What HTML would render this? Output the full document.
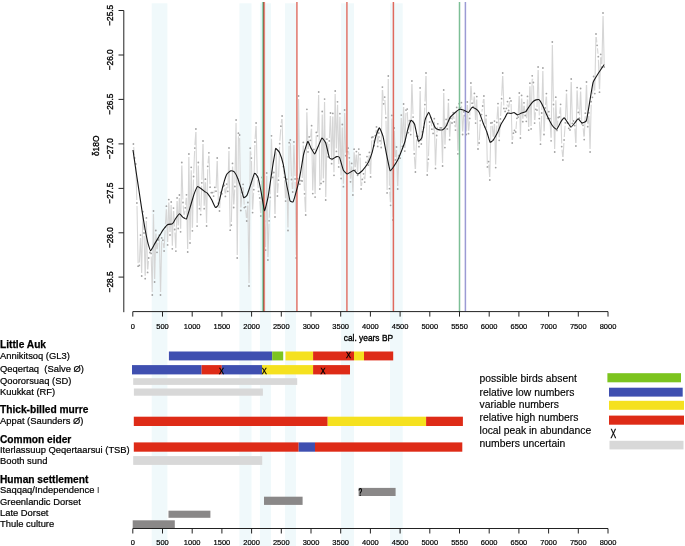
<!DOCTYPE html>
<html><head><meta charset="utf-8"><style>html,body{margin:0;padding:0;background:#fff;overflow:hidden}svg{display:block;will-change:transform}text{font-family:"Liberation Sans",sans-serif}</style></head><body>
<svg width="685" height="546" viewBox="0 0 685 546">
<rect width="685" height="546" fill="#fff"/>
<rect x="151.7" y="3.3" width="15.7" height="543" fill="#f0f9fb"/>
<rect x="239.4" y="3.3" width="12.1" height="543" fill="#f0f9fb"/>
<rect x="259.9" y="3.3" width="11.1" height="543" fill="#f0f9fb"/>
<rect x="285.0" y="3.3" width="11.0" height="543" fill="#f0f9fb"/>
<rect x="341.1" y="3.3" width="12.9" height="543" fill="#f0f9fb"/>
<rect x="390.0" y="3.3" width="12.7" height="543" fill="#f0f9fb"/>
<path d="M133.7,147.0L134.3,155.0M135.9,167.0L136.8,200.0M137.0,206.0L138.1,263.2M139.4,262.4L140.4,238.1M140.6,238.1L141.6,273.0M141.7,273.0L142.8,214.7M143.0,214.7L143.9,230.0M144.1,236.0L145.1,275.7M145.3,275.7L146.3,220.9M146.4,220.9L147.5,269.4M147.8,269.4L148.5,261.0M151.2,256.4L152.2,292.0M152.3,292.0L153.4,214.0M153.5,214.0L154.6,279.0M154.7,279.0L155.8,233.5M156.0,233.5L156.8,249.3M157.3,249.3L157.9,242.9M159.4,238.2L160.5,292.0M160.6,292.0L161.7,240.9M163.2,243.1L163.8,248.0M164.2,248.0L165.1,230.3M165.4,224.3L166.3,209.2M166.5,209.2L167.5,241.9M167.7,241.9L168.7,202.6M168.9,202.6L169.9,232.0M170.1,232.0L171.1,205.0M171.2,205.0L172.3,245.8M172.4,245.8L173.4,211.1M173.7,211.1L174.5,226.5M174.9,232.5L175.7,248.1M175.9,248.1L177.0,200.9M177.2,200.9L178.1,225.5M178.3,225.5L179.3,198.0M179.5,198.0L180.5,228.8M180.7,228.8L181.7,165.5M181.9,165.5L182.9,199.5M183.2,205.5L183.9,214.7M184.5,214.7L185.0,210.8M185.6,204.8L186.2,197.8M186.6,197.8L187.6,249.0M187.7,249.0L188.8,157.0M188.9,157.0L190.0,240.0M190.1,240.0L191.2,170.3M191.3,170.3L192.3,227.8M192.5,227.8L193.5,179.5M193.7,173.5L194.6,151.1M194.9,145.1L195.8,132.0M196.0,132.0L197.1,223.1M197.2,223.1L198.2,165.5M198.4,165.5L199.4,205.7M200.8,211.6L201.7,185.8M201.9,179.8L202.9,144.0M203.1,144.0L204.1,205.7M204.3,205.7L205.3,182.2M205.5,182.2L206.5,223.0M206.6,223.0L207.7,169.3M208.0,163.4L208.7,155.7M209.0,155.7L210.0,184.2M214.0,193.2L214.4,190.3M216.1,188.2L217.1,161.0M217.3,161.0L218.3,200.2M218.8,206.1L219.1,208.0M219.7,208.0L220.5,195.5M222.4,190.9L222.6,189.3M224.6,188.4L225.1,193.5M225.7,193.5L226.3,187.1M227.1,187.1L227.3,188.3M227.9,188.3L228.9,151.0M229.0,151.0L230.1,227.2M231.4,222.1L232.5,166.4M232.6,166.4L233.6,204.5M233.9,204.5L234.7,189.5M234.9,183.5L236.0,123.0M236.1,123.0L237.2,255.0M237.3,255.0L238.4,136.2M239.6,138.0L240.7,207.5M241.0,207.5L241.8,195.4M242.4,189.4L242.7,187.2M243.3,187.3L244.2,204.6M245.7,209.8L246.4,218.0M246.9,218.0L247.7,205.5M247.9,205.5L249.0,283.0M249.1,283.0L250.2,151.2M250.6,151.2L251.0,155.1M251.5,161.1L252.5,209.6M252.7,209.6L253.6,192.7M253.8,186.7L254.9,145.0M255.1,139.0L255.9,126.0M256.2,126.0L257.2,173.9M257.5,179.8L258.2,188.3M259.0,194.3L259.1,195.1M259.9,201.0L260.6,213.0M260.9,213.0L261.9,180.5M263.3,182.0L264.3,218.0M264.5,224.0L265.4,247.1M265.6,247.1L266.7,176.0M266.8,176.0L267.9,257.0M268.0,257.0L269.0,223.8M269.3,217.8L270.1,200.3M270.3,194.3L271.4,138.8M271.5,138.8L272.6,174.4M273.9,175.4L274.9,214.0M275.1,214.0L276.1,152.2M276.3,152.2L277.3,193.0M277.6,193.0L278.3,183.2M278.6,177.2L279.6,146.7M279.9,140.7L280.7,129.2M281.2,123.2L281.7,119.0M282.1,119.0L283.2,163.6M283.6,169.5L284.1,174.3M284.6,180.3L285.5,198.1M285.8,198.1L286.6,182.2M286.9,182.2L287.9,227.5M288.0,227.5L289.1,145.7M290.4,142.9L291.4,176.5M291.8,182.5L292.4,189.0M292.8,189.0L293.8,144.9M294.0,144.9L295.0,175.9M295.1,181.9L296.2,255.0M296.3,255.0L297.4,181.7M297.5,175.7L298.6,99.0M298.6,99.0L299.7,181.2M302.2,178.0L303.2,145.4M303.4,145.4L304.4,190.8M304.7,196.8L305.5,212.0M305.7,212.0L306.8,112.3M306.9,112.3L308.0,148.9M308.3,148.9L309.0,139.9M310.6,137.3L311.3,128.7M311.6,128.7L312.7,190.6M312.8,190.6L313.9,152.3M314.0,152.3L315.0,194.1M315.2,194.1L316.2,135.4M317.6,132.8L318.6,95.0M318.7,95.0L319.8,186.0M321.1,180.4L322.2,114.5M322.3,114.5L323.3,178.6M323.4,178.6L324.5,102.1M324.6,102.1L325.7,197.0M325.8,197.0L326.9,142.1M327.1,142.1L327.9,153.8M328.3,153.8L329.1,143.9M329.4,137.9L330.3,116.0M330.5,116.0L331.6,160.7M331.7,160.7L332.7,116.4M332.9,116.4L333.9,172.3M334.0,172.3L335.1,94.0M335.2,94.0L336.3,148.4M336.4,148.4L337.5,104.8M337.6,104.8L338.7,163.9M338.8,163.9L339.8,116.7M340.0,116.7L341.0,175.5M341.1,175.5L342.2,127.5M342.3,127.5L343.4,183.7M343.5,183.7L344.6,113.0M344.7,113.0L345.7,152.7M348.5,151.1L349.0,154.8M349.5,160.8L350.4,178.8M350.7,178.8L351.5,166.4M351.8,166.4L352.8,192.0M353.0,192.0L354.0,152.2M354.2,152.2L355.1,167.2M355.4,167.2L356.2,154.6M356.6,154.6L357.5,172.3M357.7,172.3L358.6,152.1M360.1,157.6L361.0,186.0M361.5,186.0L362.0,182.4M363.9,176.7L364.3,179.1M364.9,179.1L365.7,165.3M367.5,159.6L367.8,162.1M368.5,162.1L369.1,155.4M369.5,155.4L370.4,173.9M370.7,173.9L371.7,140.5M373.3,140.0L373.7,142.7M374.5,142.7L374.9,138.6M375.7,132.7L376.1,129.9M376.7,129.9L377.5,143.4M377.9,143.4L378.6,136.0M379.3,136.0L379.6,137.8M380.5,143.7L380.7,144.5M381.3,144.5L382.3,90.1M382.6,90.1L383.3,100.8M384.1,100.8L384.2,100.1M384.9,100.1L385.7,114.7M386.0,120.7L387.1,189.9M387.1,189.9L388.2,79.0M388.3,79.0L389.4,185.7M389.7,191.7L390.4,202.3M390.7,202.3L391.8,118.4M391.9,118.4L393.0,217.0M393.0,217.0L394.1,131.0M394.3,131.0L395.2,156.9M395.6,156.9L396.3,150.0M396.6,150.0L397.6,186.0M397.8,186.0L398.8,158.7M400.2,155.2L401.2,118.1M401.4,118.1L402.3,143.3M402.5,143.3L403.5,107.0M403.7,107.0L404.7,148.1M404.9,148.1L405.9,113.1M407.3,112.1L408.2,129.8M408.6,129.8L409.2,123.7M409.8,123.7L410.4,131.6M410.8,131.6L411.8,84.0M412.0,84.0L413.0,114.1M413.2,120.1L414.1,150.8M414.4,156.8L415.2,169.0M415.5,169.0L416.5,139.2M418.1,139.4L418.6,143.7M419.0,143.7L420.1,90.9M420.2,90.9L421.3,141.0M421.6,141.0L422.2,134.7M423.8,124.4L424.7,107.6M425.0,101.6L425.9,76.0M426.1,76.0L427.2,172.0M427.4,172.0L428.2,162.1M428.5,156.2L429.5,125.0M431.1,120.6L431.6,126.2M433.4,130.4L434.1,121.7M434.4,121.7L435.4,165.4M435.6,165.4L436.6,138.5M437.0,132.5L437.5,126.7M441.5,130.8L442.5,163.0M442.6,163.0L443.7,93.0M443.8,93.0L444.9,144.6M445.0,144.7L446.0,122.4M446.5,122.4L446.9,126.0M447.4,125.9L448.3,102.8M448.5,102.8L449.6,136.7M449.8,136.7L450.7,121.3M452.3,120.0L452.8,115.6M453.6,115.6L454.0,119.0M454.8,124.9L455.1,127.1M455.7,127.1L456.6,110.4M456.8,110.4L457.8,150.8M458.0,150.8L459.0,106.7M461.6,105.7L462.5,131.5M462.8,131.5L463.6,114.8M465.2,118.7L466.0,131.5M466.3,131.5L467.2,105.0M467.5,105.0L468.4,130.7M468.8,130.7L469.5,121.4M469.8,115.4L470.8,86.0M471.1,86.0L471.9,100.2M473.5,103.7L474.2,96.4M474.5,96.4L475.5,120.1M475.7,120.1L476.6,99.6M476.8,99.6L477.9,146.0M479.3,140.0L480.2,123.7M481.9,111.6L482.3,109.0M483.0,103.1L483.5,99.0M484.0,99.0L484.9,124.1M485.3,124.1L485.9,118.6M486.3,118.6L487.3,163.9M488.8,164.6L489.6,177.0M489.8,177.0L490.9,126.0M492.3,125.7L493.1,136.8M493.5,136.8L494.3,124.1M494.6,124.1L495.6,164.6M495.7,164.6L496.8,125.4M497.0,119.4L497.8,106.5M498.1,106.6L499.1,137.3M499.4,137.3L500.2,121.9M500.6,115.9L501.4,101.7M501.7,95.7L502.6,76.0M502.8,76.0L503.8,105.4M506.8,105.4L506.9,104.6M507.9,104.6L508.2,107.5M508.9,107.5L509.5,101.2M511.1,103.9L512.1,140.0M512.5,140.0L513.0,136.2M516.0,129.0L516.6,121.3M518.2,114.1L519.1,96.0M519.3,96.0L520.4,135.0M520.5,135.0L521.5,98.4M521.8,98.4L522.7,118.7M523.0,118.7L523.8,105.8M524.3,105.8L524.9,112.5M526.5,118.3L527.4,99.4M527.6,99.4L528.6,127.1M528.8,127.1L529.8,86.2M530.0,86.2L531.0,125.9M531.1,125.9L532.2,78.8M532.8,78.7L532.9,79.6M533.5,85.5L534.5,120.1M534.9,120.1L535.5,112.3M537.0,107.1L538.1,70.0M538.2,70.0L539.3,115.6M539.5,121.6L540.4,141.2M540.6,141.2L541.6,116.0M541.8,110.0L542.8,71.0M542.9,71.0L544.0,131.5M544.2,131.5L545.1,110.9M545.5,104.9L546.2,96.6M546.5,96.6L547.4,115.4M548.1,115.5L548.2,114.7M549.3,114.7L549.4,115.7M550.1,121.6L551.0,137.8M551.2,137.8L552.3,45.0M552.4,45.0L553.4,101.5M553.6,107.5L554.6,149.0M554.7,149.0L555.8,100.2M555.9,100.2L556.9,127.4M557.3,127.4L557.9,120.5M559.7,113.8L560.3,107.3M560.6,107.3L561.7,143.6M562.0,149.6L562.7,157.0M563.1,157.0L563.9,143.0M564.3,137.0L565.1,125.8M565.4,119.8L566.4,93.6M566.6,93.6L567.5,120.0M570.1,126.9L571.1,82.0M571.3,82.0L572.3,120.4M574.9,128.6L575.7,143.0M576.0,143.0L577.0,90.6M577.2,90.6L578.1,109.4M579.6,115.2L580.5,91.5M580.7,91.5L581.7,120.7M583.2,128.3L583.9,136.6M584.3,136.6L585.2,116.2M585.5,110.2L586.4,85.0M586.6,85.0L587.6,123.7M588.0,123.7L588.6,115.8M589.0,115.8L590.0,149.0M590.1,149.0L591.2,104.7M592.6,94.3L593.4,79.5M593.8,79.5L594.6,90.6M594.8,90.6L595.9,37.0M596.3,37.0L596.8,42.4M597.5,48.3L598.0,53.7M598.4,59.7L599.4,89.2M599.6,89.2L600.6,57.3M601.0,57.3L601.6,64.2M601.9,64.2L603.0,16.0M603.1,16.0L604.2,64.0" fill="none" stroke="#d6d6d6" stroke-width="1.1"/>
<g fill="#a2a2a2"><circle cx="133.4" cy="144.0" r="0.9"/><circle cx="134.6" cy="158.0" r="0.9"/><circle cx="135.8" cy="164.0" r="0.9"/><circle cx="136.9" cy="203.0" r="0.9"/><circle cx="138.1" cy="266.2" r="0.9"/><circle cx="139.3" cy="265.4" r="0.9"/><circle cx="140.5" cy="235.1" r="0.9"/><circle cx="141.7" cy="276.0" r="0.9"/><circle cx="142.8" cy="211.7" r="0.9"/><circle cx="144.0" cy="233.0" r="0.9"/><circle cx="145.2" cy="278.7" r="0.9"/><circle cx="146.4" cy="217.9" r="0.9"/><circle cx="147.6" cy="272.4" r="0.9"/><circle cx="148.7" cy="258.0" r="0.9"/><circle cx="149.9" cy="252.5" r="0.9"/><circle cx="151.1" cy="253.4" r="0.9"/><circle cx="152.3" cy="295.0" r="0.9"/><circle cx="153.5" cy="211.0" r="0.9"/><circle cx="154.6" cy="282.0" r="0.9"/><circle cx="155.8" cy="230.5" r="0.9"/><circle cx="157.0" cy="252.3" r="0.9"/><circle cx="158.2" cy="239.9" r="0.9"/><circle cx="159.4" cy="235.2" r="0.9"/><circle cx="160.5" cy="295.0" r="0.9"/><circle cx="161.7" cy="237.9" r="0.9"/><circle cx="162.9" cy="240.2" r="0.9"/><circle cx="164.1" cy="251.0" r="0.9"/><circle cx="165.3" cy="227.3" r="0.9"/><circle cx="166.4" cy="206.2" r="0.9"/><circle cx="167.6" cy="244.9" r="0.9"/><circle cx="168.8" cy="199.6" r="0.9"/><circle cx="170.0" cy="235.0" r="0.9"/><circle cx="171.2" cy="202.0" r="0.9"/><circle cx="172.3" cy="248.8" r="0.9"/><circle cx="173.5" cy="208.1" r="0.9"/><circle cx="174.7" cy="229.5" r="0.9"/><circle cx="175.9" cy="251.1" r="0.9"/><circle cx="177.1" cy="197.9" r="0.9"/><circle cx="178.2" cy="228.5" r="0.9"/><circle cx="179.4" cy="195.0" r="0.9"/><circle cx="180.6" cy="231.8" r="0.9"/><circle cx="181.8" cy="162.5" r="0.9"/><circle cx="183.0" cy="202.5" r="0.9"/><circle cx="184.1" cy="217.7" r="0.9"/><circle cx="185.3" cy="207.8" r="0.9"/><circle cx="186.5" cy="194.8" r="0.9"/><circle cx="187.7" cy="252.0" r="0.9"/><circle cx="188.9" cy="154.0" r="0.9"/><circle cx="190.0" cy="243.0" r="0.9"/><circle cx="191.2" cy="167.3" r="0.9"/><circle cx="192.4" cy="230.8" r="0.9"/><circle cx="193.6" cy="176.5" r="0.9"/><circle cx="194.8" cy="148.1" r="0.9"/><circle cx="195.9" cy="129.0" r="0.9"/><circle cx="197.1" cy="226.1" r="0.9"/><circle cx="198.3" cy="162.5" r="0.9"/><circle cx="199.5" cy="208.7" r="0.9"/><circle cx="200.7" cy="214.6" r="0.9"/><circle cx="201.8" cy="182.8" r="0.9"/><circle cx="203.0" cy="141.0" r="0.9"/><circle cx="204.2" cy="208.7" r="0.9"/><circle cx="205.4" cy="179.2" r="0.9"/><circle cx="206.6" cy="226.0" r="0.9"/><circle cx="207.7" cy="166.3" r="0.9"/><circle cx="208.9" cy="152.8" r="0.9"/><circle cx="210.1" cy="187.2" r="0.9"/><circle cx="211.3" cy="192.7" r="0.9"/><circle cx="212.5" cy="192.6" r="0.9"/><circle cx="213.6" cy="196.1" r="0.9"/><circle cx="214.8" cy="187.3" r="0.9"/><circle cx="216.0" cy="191.2" r="0.9"/><circle cx="217.2" cy="158.0" r="0.9"/><circle cx="218.4" cy="203.2" r="0.9"/><circle cx="219.5" cy="211.0" r="0.9"/><circle cx="220.7" cy="192.5" r="0.9"/><circle cx="221.9" cy="193.8" r="0.9"/><circle cx="223.1" cy="186.3" r="0.9"/><circle cx="224.3" cy="185.4" r="0.9"/><circle cx="225.4" cy="196.4" r="0.9"/><circle cx="226.6" cy="184.1" r="0.9"/><circle cx="227.8" cy="191.3" r="0.9"/><circle cx="229.0" cy="148.0" r="0.9"/><circle cx="230.2" cy="230.2" r="0.9"/><circle cx="231.3" cy="225.1" r="0.9"/><circle cx="232.5" cy="163.4" r="0.9"/><circle cx="233.7" cy="207.5" r="0.9"/><circle cx="234.9" cy="186.5" r="0.9"/><circle cx="236.1" cy="120.0" r="0.9"/><circle cx="237.2" cy="258.0" r="0.9"/><circle cx="238.4" cy="133.2" r="0.9"/><circle cx="239.6" cy="135.0" r="0.9"/><circle cx="240.8" cy="210.5" r="0.9"/><circle cx="242.0" cy="192.4" r="0.9"/><circle cx="243.1" cy="184.3" r="0.9"/><circle cx="244.3" cy="207.6" r="0.9"/><circle cx="245.5" cy="206.8" r="0.9"/><circle cx="246.7" cy="221.0" r="0.9"/><circle cx="247.9" cy="202.5" r="0.9"/><circle cx="249.0" cy="286.0" r="0.9"/><circle cx="250.2" cy="148.2" r="0.9"/><circle cx="251.4" cy="158.1" r="0.9"/><circle cx="252.6" cy="212.6" r="0.9"/><circle cx="253.8" cy="189.7" r="0.9"/><circle cx="254.9" cy="142.0" r="0.9"/><circle cx="256.1" cy="123.0" r="0.9"/><circle cx="257.3" cy="176.9" r="0.9"/><circle cx="258.5" cy="191.3" r="0.9"/><circle cx="259.7" cy="198.0" r="0.9"/><circle cx="260.8" cy="216.0" r="0.9"/><circle cx="262.0" cy="177.5" r="0.9"/><circle cx="263.2" cy="179.0" r="0.9"/><circle cx="264.4" cy="221.0" r="0.9"/><circle cx="265.6" cy="250.1" r="0.9"/><circle cx="266.7" cy="173.0" r="0.9"/><circle cx="267.9" cy="260.0" r="0.9"/><circle cx="269.1" cy="220.8" r="0.9"/><circle cx="270.3" cy="197.3" r="0.9"/><circle cx="271.5" cy="135.8" r="0.9"/><circle cx="272.6" cy="177.4" r="0.9"/><circle cx="273.8" cy="172.5" r="0.9"/><circle cx="275.0" cy="217.0" r="0.9"/><circle cx="276.2" cy="149.2" r="0.9"/><circle cx="277.4" cy="196.0" r="0.9"/><circle cx="278.5" cy="180.2" r="0.9"/><circle cx="279.7" cy="143.7" r="0.9"/><circle cx="280.9" cy="126.2" r="0.9"/><circle cx="282.1" cy="116.0" r="0.9"/><circle cx="283.3" cy="166.6" r="0.9"/><circle cx="284.4" cy="177.3" r="0.9"/><circle cx="285.6" cy="201.1" r="0.9"/><circle cx="286.8" cy="179.2" r="0.9"/><circle cx="288.0" cy="230.5" r="0.9"/><circle cx="289.2" cy="142.7" r="0.9"/><circle cx="290.3" cy="139.9" r="0.9"/><circle cx="291.5" cy="179.5" r="0.9"/><circle cx="292.7" cy="192.0" r="0.9"/><circle cx="293.9" cy="141.9" r="0.9"/><circle cx="295.1" cy="178.9" r="0.9"/><circle cx="296.2" cy="258.0" r="0.9"/><circle cx="297.4" cy="178.7" r="0.9"/><circle cx="298.6" cy="96.0" r="0.9"/><circle cx="299.8" cy="184.2" r="0.9"/><circle cx="301.0" cy="180.6" r="0.9"/><circle cx="302.1" cy="181.0" r="0.9"/><circle cx="303.3" cy="142.4" r="0.9"/><circle cx="304.5" cy="193.8" r="0.9"/><circle cx="305.7" cy="215.0" r="0.9"/><circle cx="306.9" cy="109.3" r="0.9"/><circle cx="308.0" cy="151.9" r="0.9"/><circle cx="309.2" cy="136.9" r="0.9"/><circle cx="310.4" cy="140.3" r="0.9"/><circle cx="311.6" cy="125.7" r="0.9"/><circle cx="312.8" cy="193.6" r="0.9"/><circle cx="313.9" cy="149.3" r="0.9"/><circle cx="315.1" cy="197.1" r="0.9"/><circle cx="316.3" cy="132.4" r="0.9"/><circle cx="317.5" cy="135.8" r="0.9"/><circle cx="318.7" cy="92.0" r="0.9"/><circle cx="319.8" cy="189.0" r="0.9"/><circle cx="321.0" cy="183.4" r="0.9"/><circle cx="322.2" cy="111.5" r="0.9"/><circle cx="323.4" cy="181.6" r="0.9"/><circle cx="324.6" cy="99.1" r="0.9"/><circle cx="325.7" cy="200.0" r="0.9"/><circle cx="326.9" cy="139.1" r="0.9"/><circle cx="328.1" cy="156.8" r="0.9"/><circle cx="329.3" cy="140.9" r="0.9"/><circle cx="330.5" cy="113.0" r="0.9"/><circle cx="331.6" cy="163.7" r="0.9"/><circle cx="332.8" cy="113.4" r="0.9"/><circle cx="334.0" cy="175.3" r="0.9"/><circle cx="335.2" cy="91.0" r="0.9"/><circle cx="336.4" cy="151.4" r="0.9"/><circle cx="337.5" cy="101.8" r="0.9"/><circle cx="338.7" cy="166.9" r="0.9"/><circle cx="339.9" cy="113.7" r="0.9"/><circle cx="341.1" cy="178.5" r="0.9"/><circle cx="342.3" cy="124.5" r="0.9"/><circle cx="343.4" cy="186.7" r="0.9"/><circle cx="344.6" cy="110.0" r="0.9"/><circle cx="345.8" cy="155.7" r="0.9"/><circle cx="347.0" cy="151.7" r="0.9"/><circle cx="348.2" cy="148.1" r="0.9"/><circle cx="349.3" cy="157.8" r="0.9"/><circle cx="350.5" cy="181.8" r="0.9"/><circle cx="351.7" cy="163.4" r="0.9"/><circle cx="352.9" cy="195.0" r="0.9"/><circle cx="354.1" cy="149.2" r="0.9"/><circle cx="355.2" cy="170.1" r="0.9"/><circle cx="356.4" cy="151.6" r="0.9"/><circle cx="357.6" cy="175.3" r="0.9"/><circle cx="358.8" cy="149.1" r="0.9"/><circle cx="360.0" cy="154.6" r="0.9"/><circle cx="361.1" cy="189.0" r="0.9"/><circle cx="362.3" cy="179.4" r="0.9"/><circle cx="363.5" cy="173.8" r="0.9"/><circle cx="364.7" cy="182.1" r="0.9"/><circle cx="365.9" cy="162.3" r="0.9"/><circle cx="367.0" cy="156.6" r="0.9"/><circle cx="368.2" cy="165.1" r="0.9"/><circle cx="369.4" cy="152.4" r="0.9"/><circle cx="370.6" cy="176.9" r="0.9"/><circle cx="371.8" cy="137.5" r="0.9"/><circle cx="372.9" cy="137.0" r="0.9"/><circle cx="374.1" cy="145.7" r="0.9"/><circle cx="375.3" cy="135.7" r="0.9"/><circle cx="376.5" cy="126.9" r="0.9"/><circle cx="377.7" cy="146.4" r="0.9"/><circle cx="378.8" cy="133.0" r="0.9"/><circle cx="380.0" cy="140.8" r="0.9"/><circle cx="381.2" cy="147.5" r="0.9"/><circle cx="382.4" cy="87.1" r="0.9"/><circle cx="383.6" cy="103.8" r="0.9"/><circle cx="384.7" cy="97.1" r="0.9"/><circle cx="385.9" cy="117.7" r="0.9"/><circle cx="387.1" cy="192.9" r="0.9"/><circle cx="388.3" cy="76.0" r="0.9"/><circle cx="389.5" cy="188.7" r="0.9"/><circle cx="390.6" cy="205.3" r="0.9"/><circle cx="391.8" cy="115.4" r="0.9"/><circle cx="393.0" cy="220.0" r="0.9"/><circle cx="394.2" cy="128.0" r="0.9"/><circle cx="395.4" cy="159.9" r="0.9"/><circle cx="396.5" cy="147.0" r="0.9"/><circle cx="397.7" cy="189.0" r="0.9"/><circle cx="398.9" cy="155.7" r="0.9"/><circle cx="400.1" cy="158.2" r="0.9"/><circle cx="401.3" cy="115.1" r="0.9"/><circle cx="402.4" cy="146.3" r="0.9"/><circle cx="403.6" cy="104.0" r="0.9"/><circle cx="404.8" cy="151.1" r="0.9"/><circle cx="406.0" cy="110.1" r="0.9"/><circle cx="407.2" cy="109.1" r="0.9"/><circle cx="408.3" cy="132.7" r="0.9"/><circle cx="409.5" cy="120.7" r="0.9"/><circle cx="410.7" cy="134.6" r="0.9"/><circle cx="411.9" cy="81.0" r="0.9"/><circle cx="413.1" cy="117.1" r="0.9"/><circle cx="414.2" cy="153.8" r="0.9"/><circle cx="415.4" cy="172.0" r="0.9"/><circle cx="416.6" cy="136.2" r="0.9"/><circle cx="417.8" cy="136.5" r="0.9"/><circle cx="419.0" cy="146.7" r="0.9"/><circle cx="420.1" cy="87.9" r="0.9"/><circle cx="421.3" cy="144.0" r="0.9"/><circle cx="422.5" cy="131.8" r="0.9"/><circle cx="423.7" cy="127.4" r="0.9"/><circle cx="424.9" cy="104.6" r="0.9"/><circle cx="426.0" cy="73.0" r="0.9"/><circle cx="427.2" cy="175.0" r="0.9"/><circle cx="428.4" cy="159.2" r="0.9"/><circle cx="429.6" cy="122.0" r="0.9"/><circle cx="430.8" cy="117.6" r="0.9"/><circle cx="431.9" cy="129.2" r="0.9"/><circle cx="433.1" cy="133.4" r="0.9"/><circle cx="434.3" cy="118.7" r="0.9"/><circle cx="435.5" cy="168.4" r="0.9"/><circle cx="436.7" cy="135.5" r="0.9"/><circle cx="437.8" cy="123.8" r="0.9"/><circle cx="439.0" cy="129.8" r="0.9"/><circle cx="440.2" cy="127.8" r="0.9"/><circle cx="441.4" cy="127.8" r="0.9"/><circle cx="442.6" cy="166.0" r="0.9"/><circle cx="443.7" cy="90.0" r="0.9"/><circle cx="444.9" cy="147.6" r="0.9"/><circle cx="446.1" cy="119.4" r="0.9"/><circle cx="447.3" cy="128.9" r="0.9"/><circle cx="448.5" cy="99.8" r="0.9"/><circle cx="449.6" cy="139.7" r="0.9"/><circle cx="450.8" cy="118.3" r="0.9"/><circle cx="452.0" cy="123.0" r="0.9"/><circle cx="453.2" cy="112.7" r="0.9"/><circle cx="454.4" cy="122.0" r="0.9"/><circle cx="455.5" cy="130.1" r="0.9"/><circle cx="456.7" cy="107.4" r="0.9"/><circle cx="457.9" cy="153.8" r="0.9"/><circle cx="459.1" cy="103.7" r="0.9"/><circle cx="460.3" cy="107.9" r="0.9"/><circle cx="461.4" cy="102.7" r="0.9"/><circle cx="462.6" cy="134.5" r="0.9"/><circle cx="463.8" cy="111.8" r="0.9"/><circle cx="465.0" cy="115.7" r="0.9"/><circle cx="466.2" cy="134.5" r="0.9"/><circle cx="467.3" cy="102.0" r="0.9"/><circle cx="468.5" cy="133.7" r="0.9"/><circle cx="469.7" cy="118.4" r="0.9"/><circle cx="470.9" cy="83.0" r="0.9"/><circle cx="472.1" cy="103.2" r="0.9"/><circle cx="473.2" cy="106.7" r="0.9"/><circle cx="474.4" cy="93.4" r="0.9"/><circle cx="475.6" cy="123.1" r="0.9"/><circle cx="476.8" cy="96.6" r="0.9"/><circle cx="478.0" cy="149.0" r="0.9"/><circle cx="479.1" cy="143.0" r="0.9"/><circle cx="480.3" cy="120.7" r="0.9"/><circle cx="481.5" cy="114.6" r="0.9"/><circle cx="482.7" cy="106.0" r="0.9"/><circle cx="483.9" cy="96.0" r="0.9"/><circle cx="485.0" cy="127.1" r="0.9"/><circle cx="486.2" cy="115.6" r="0.9"/><circle cx="487.4" cy="166.9" r="0.9"/><circle cx="488.6" cy="161.6" r="0.9"/><circle cx="489.8" cy="180.0" r="0.9"/><circle cx="490.9" cy="123.0" r="0.9"/><circle cx="492.1" cy="122.7" r="0.9"/><circle cx="493.3" cy="139.8" r="0.9"/><circle cx="494.5" cy="121.1" r="0.9"/><circle cx="495.7" cy="167.6" r="0.9"/><circle cx="496.8" cy="122.4" r="0.9"/><circle cx="498.0" cy="103.6" r="0.9"/><circle cx="499.2" cy="140.3" r="0.9"/><circle cx="500.4" cy="118.9" r="0.9"/><circle cx="501.6" cy="98.7" r="0.9"/><circle cx="502.7" cy="73.0" r="0.9"/><circle cx="503.9" cy="108.4" r="0.9"/><circle cx="505.1" cy="111.4" r="0.9"/><circle cx="506.3" cy="108.4" r="0.9"/><circle cx="507.5" cy="101.6" r="0.9"/><circle cx="508.6" cy="110.5" r="0.9"/><circle cx="509.8" cy="98.2" r="0.9"/><circle cx="511.0" cy="100.9" r="0.9"/><circle cx="512.2" cy="143.0" r="0.9"/><circle cx="513.4" cy="133.2" r="0.9"/><circle cx="514.5" cy="130.4" r="0.9"/><circle cx="515.7" cy="132.0" r="0.9"/><circle cx="516.9" cy="118.3" r="0.9"/><circle cx="518.1" cy="117.1" r="0.9"/><circle cx="519.3" cy="93.0" r="0.9"/><circle cx="520.4" cy="138.0" r="0.9"/><circle cx="521.6" cy="95.4" r="0.9"/><circle cx="522.8" cy="121.7" r="0.9"/><circle cx="524.0" cy="102.8" r="0.9"/><circle cx="525.2" cy="115.5" r="0.9"/><circle cx="526.3" cy="121.3" r="0.9"/><circle cx="527.5" cy="96.4" r="0.9"/><circle cx="528.7" cy="130.1" r="0.9"/><circle cx="529.9" cy="83.2" r="0.9"/><circle cx="531.1" cy="128.9" r="0.9"/><circle cx="532.2" cy="75.8" r="0.9"/><circle cx="533.4" cy="82.5" r="0.9"/><circle cx="534.6" cy="123.1" r="0.9"/><circle cx="535.8" cy="109.3" r="0.9"/><circle cx="537.0" cy="110.1" r="0.9"/><circle cx="538.1" cy="67.0" r="0.9"/><circle cx="539.3" cy="118.6" r="0.9"/><circle cx="540.5" cy="144.2" r="0.9"/><circle cx="541.7" cy="113.0" r="0.9"/><circle cx="542.9" cy="68.0" r="0.9"/><circle cx="544.0" cy="134.5" r="0.9"/><circle cx="545.2" cy="107.9" r="0.9"/><circle cx="546.4" cy="93.6" r="0.9"/><circle cx="547.6" cy="118.4" r="0.9"/><circle cx="548.8" cy="111.7" r="0.9"/><circle cx="549.9" cy="118.6" r="0.9"/><circle cx="551.1" cy="140.8" r="0.9"/><circle cx="552.3" cy="42.0" r="0.9"/><circle cx="553.5" cy="104.5" r="0.9"/><circle cx="554.7" cy="152.0" r="0.9"/><circle cx="555.8" cy="97.2" r="0.9"/><circle cx="557.0" cy="130.4" r="0.9"/><circle cx="558.2" cy="117.5" r="0.9"/><circle cx="559.4" cy="116.8" r="0.9"/><circle cx="560.6" cy="104.3" r="0.9"/><circle cx="561.7" cy="146.6" r="0.9"/><circle cx="562.9" cy="160.0" r="0.9"/><circle cx="564.1" cy="140.0" r="0.9"/><circle cx="565.3" cy="122.8" r="0.9"/><circle cx="566.5" cy="90.6" r="0.9"/><circle cx="567.6" cy="123.0" r="0.9"/><circle cx="568.8" cy="128.3" r="0.9"/><circle cx="570.0" cy="129.9" r="0.9"/><circle cx="571.2" cy="79.0" r="0.9"/><circle cx="572.4" cy="123.4" r="0.9"/><circle cx="573.5" cy="121.0" r="0.9"/><circle cx="574.7" cy="125.6" r="0.9"/><circle cx="575.9" cy="146.0" r="0.9"/><circle cx="577.1" cy="87.6" r="0.9"/><circle cx="578.3" cy="112.4" r="0.9"/><circle cx="579.4" cy="118.2" r="0.9"/><circle cx="580.6" cy="88.5" r="0.9"/><circle cx="581.8" cy="123.7" r="0.9"/><circle cx="583.0" cy="125.3" r="0.9"/><circle cx="584.2" cy="139.6" r="0.9"/><circle cx="585.3" cy="113.2" r="0.9"/><circle cx="586.5" cy="82.0" r="0.9"/><circle cx="587.7" cy="126.7" r="0.9"/><circle cx="588.9" cy="112.8" r="0.9"/><circle cx="590.1" cy="152.0" r="0.9"/><circle cx="591.2" cy="101.7" r="0.9"/><circle cx="592.4" cy="97.3" r="0.9"/><circle cx="593.6" cy="76.5" r="0.9"/><circle cx="594.8" cy="93.6" r="0.9"/><circle cx="596.0" cy="34.0" r="0.9"/><circle cx="597.1" cy="45.3" r="0.9"/><circle cx="598.3" cy="56.7" r="0.9"/><circle cx="599.5" cy="92.2" r="0.9"/><circle cx="600.7" cy="54.3" r="0.9"/><circle cx="601.9" cy="67.2" r="0.9"/><circle cx="603.0" cy="13.0" r="0.9"/><circle cx="604.2" cy="67.0" r="0.9"/></g>
<rect x="261.90" y="2" width="1.10" height="309.6" fill="#8fd3b3"/>
<rect x="263.00" y="2" width="1.00" height="309.6" fill="#8f6a50"/>
<rect x="264.00" y="2" width="1.10" height="309.6" fill="#e8837a"/>
<rect x="296.10" y="2" width="1.60" height="309.6" fill="#e27e74"/>
<rect x="346.10" y="2" width="1.60" height="309.6" fill="#e27e74"/>
<rect x="392.65" y="2" width="1.50" height="309.6" fill="#df6a5e"/>
<rect x="458.75" y="2" width="1.50" height="309.6" fill="#7dbf96"/>
<rect x="464.65" y="2" width="1.50" height="309.6" fill="#9b9bd4"/>
<path d="M133.0,150.0 C133.2,151.4 135.6,168.2 136.0,171.0 C136.4,173.8 138.7,188.6 139.1,191.3 C139.5,194.0 141.7,208.9 142.1,211.4 C142.5,213.9 144.7,227.4 145.1,229.5 C145.5,231.6 147.7,242.2 148.1,243.6 C148.5,245.0 150.2,250.7 150.6,250.8 C151.0,250.9 153.8,245.4 154.3,244.5 C154.8,243.6 158.1,238.1 158.7,237.1 C159.3,236.1 162.5,230.6 163.1,229.8 C163.7,229.0 166.9,225.1 167.5,224.7 C168.1,224.3 171.5,224.1 171.9,224.0 C172.3,223.9 173.2,222.8 173.4,222.5 C173.6,222.2 175.1,219.4 175.5,218.8 C175.9,218.2 179.0,213.8 179.5,213.7 C180.0,213.6 182.4,217.1 182.9,217.4 C183.4,217.7 186.1,219.3 186.5,218.8 C186.9,218.3 189.0,210.9 189.5,209.3 C190.0,207.7 193.4,196.2 193.9,194.7 C194.4,193.2 197.0,187.0 197.5,186.6 C198.0,186.2 200.7,188.5 201.2,188.8 C201.7,189.1 204.6,191.4 205.0,191.7 C205.4,192.0 206.9,192.7 207.3,193.2 C207.7,193.7 211.2,198.9 211.7,199.8 C212.2,200.7 215.0,207.1 215.4,207.4 C215.8,207.7 217.9,206.1 218.3,204.9 C218.7,203.7 221.5,191.6 222.0,189.6 C222.5,187.6 225.8,176.2 226.4,174.9 C227.0,173.6 230.3,171.0 230.8,170.8 C231.3,170.6 233.9,171.4 234.4,172.0 C234.9,172.6 237.7,178.2 238.1,179.3 C238.5,180.4 240.6,186.9 241.0,188.1 C241.4,189.3 243.3,197.1 243.7,197.6 C244.1,198.1 246.4,196.2 246.9,195.4 C247.4,194.6 250.0,186.7 250.5,185.2 C251.0,183.7 254.0,173.9 254.5,173.4 C255.0,172.9 257.4,175.7 257.9,177.1 C258.4,178.5 261.1,191.8 261.5,194.0 C261.9,196.2 264.1,210.6 264.5,210.8 C264.9,211.0 267.6,199.5 268.1,196.9 C268.6,194.3 271.4,174.8 271.8,172.0 C272.2,169.2 274.4,156.0 274.7,154.4 C275.0,152.8 275.3,148.5 275.6,148.4 C275.9,148.3 279.0,151.4 279.5,152.5 C280.0,153.6 282.8,162.3 283.2,164.2 C283.6,166.1 285.7,179.1 286.0,181.0 C286.3,182.9 287.9,190.7 288.2,192.0 C288.5,193.3 289.7,200.1 290.0,200.8 C290.3,201.5 292.7,202.2 293.0,201.9 C293.3,201.6 294.8,196.7 295.1,195.6 C295.4,194.5 297.3,187.7 297.7,186.1 C298.1,184.5 300.2,174.3 300.6,172.2 C301.0,170.1 303.2,156.0 303.7,154.0 C304.2,152.0 307.3,141.9 307.8,141.5 C308.3,141.1 310.5,147.3 311.0,148.1 C311.5,148.9 314.2,154.1 314.7,154.0 C315.2,153.9 317.9,147.0 318.4,145.9 C318.9,144.8 321.5,138.3 322.0,138.1 C322.5,137.9 325.2,141.7 325.7,143.0 C326.2,144.3 328.9,156.5 329.3,157.6 C329.7,158.7 331.8,159.2 332.3,159.1 C332.8,159.0 336.2,156.7 336.7,156.6 C337.2,156.5 339.2,156.7 339.6,157.6 C340.0,158.5 342.8,169.0 343.3,170.1 C343.8,171.2 346.5,174.0 347.2,174.0 C347.9,174.0 353.1,170.3 353.8,170.3 C354.5,170.3 357.3,174.0 357.9,174.0 C358.5,174.0 361.9,171.1 362.6,170.3 C363.3,169.5 367.8,163.5 368.4,162.3 C369.0,161.1 371.6,154.4 372.1,152.7 C372.6,151.0 375.3,138.3 375.8,136.6 C376.3,134.9 378.9,127.8 379.4,127.8 C379.9,127.8 382.6,134.7 383.1,136.6 C383.6,138.5 386.3,153.4 386.8,155.7 C387.3,158.0 389.6,169.9 390.1,170.6 C390.6,171.3 393.6,166.6 394.1,165.9 C394.6,165.2 397.2,161.1 397.7,160.1 C398.2,159.1 400.9,152.6 401.4,151.3 C401.9,150.0 404.7,142.5 405.1,141.0 C405.5,139.5 407.6,130.0 408.0,128.6 C408.4,127.2 410.8,120.5 411.2,120.2 C411.6,119.9 414.1,122.8 414.6,124.2 C415.1,125.6 417.8,140.1 418.3,141.0 C418.8,141.9 421.4,138.9 421.9,137.5 C422.4,136.1 424.6,121.5 425.1,119.8 C425.6,118.1 428.4,112.2 428.8,112.2 C429.2,112.2 431.3,118.8 431.7,119.8 C432.1,120.8 434.9,127.2 435.4,127.9 C435.9,128.6 438.5,129.7 439.0,129.8 C439.5,129.9 442.2,130.1 442.7,129.8 C443.2,129.5 445.9,126.5 446.4,125.7 C446.9,124.9 449.4,118.5 450.0,117.6 C450.6,116.7 454.5,113.1 455.2,112.5 C455.9,111.9 459.3,109.4 459.9,109.3 C460.5,109.2 463.4,110.1 464.0,110.3 C464.6,110.5 467.9,112.7 468.4,112.5 C468.9,112.3 471.5,107.6 472.0,107.4 C472.5,107.2 475.2,108.5 475.7,108.8 C476.2,109.1 478.8,111.6 479.3,112.5 C479.8,113.4 482.5,121.4 483.0,122.7 C483.5,124.0 486.2,130.2 486.7,131.5 C487.2,132.8 489.6,141.5 490.0,142.1 C490.4,142.7 492.8,140.7 493.3,140.0 C493.8,139.3 497.4,132.8 497.9,131.8 C498.4,130.8 500.5,125.4 500.9,124.5 C501.3,123.6 504.1,119.4 504.5,118.6 C504.9,117.8 507.1,113.3 507.5,113.0 C507.9,112.7 510.7,113.5 511.1,113.5 C511.5,113.5 513.6,112.4 514.0,112.5 C514.4,112.6 517.2,114.9 517.7,114.9 C518.2,114.9 520.9,113.2 521.4,113.0 C521.9,112.8 525.3,112.1 525.8,111.6 C526.3,111.1 528.9,106.9 529.4,106.2 C529.9,105.5 532.4,102.2 532.8,101.8 C533.2,101.4 535.6,100.0 536.0,99.9 C536.4,99.8 538.6,99.3 539.0,99.6 C539.4,99.9 541.5,103.2 541.9,104.0 C542.3,104.8 545.0,110.8 545.5,112.0 C546.0,113.2 549.5,120.5 550.0,121.5 C550.5,122.5 553.1,126.6 553.6,127.1 C554.1,127.6 556.3,129.5 556.8,129.2 C557.3,128.9 560.1,123.1 560.6,122.3 C561.1,121.5 563.7,117.9 564.2,117.9 C564.7,117.9 567.0,121.7 567.5,122.3 C568.0,122.9 570.5,127.2 571.0,127.2 C571.5,127.2 574.5,123.3 575.0,122.7 C575.5,122.1 577.6,118.8 578.1,118.8 C578.6,118.8 581.5,122.8 582.1,122.9 C582.7,123.0 585.9,122.0 586.4,120.5 C586.9,119.0 589.6,102.7 590.0,100.2 C590.4,97.7 592.6,84.1 593.1,82.4 C593.6,80.7 596.6,76.0 597.1,75.2 C597.6,74.4 599.7,71.2 600.2,70.5 C600.7,69.8 604.0,64.9 604.3,64.5" fill="none" stroke="#161616" stroke-width="1.1" stroke-linejoin="round"/>
<g stroke="#222" stroke-width="1" fill="none">
<line x1="123.8" y1="10.5" x2="123.8" y2="312.2"/>
<line x1="118.5" y1="10.5" x2="123.8" y2="10.5"/>
<line x1="118.5" y1="55.0" x2="123.8" y2="55.0"/>
<line x1="118.5" y1="99.4" x2="123.8" y2="99.4"/>
<line x1="118.5" y1="143.9" x2="123.8" y2="143.9"/>
<line x1="118.5" y1="188.4" x2="123.8" y2="188.4"/>
<line x1="118.5" y1="232.8" x2="123.8" y2="232.8"/>
<line x1="118.5" y1="277.1" x2="123.8" y2="277.1"/>
</g>
<text transform="translate(112.6,15.3) rotate(-90)" font-size="9.2" text-anchor="middle" textLength="21" lengthAdjust="spacingAndGlyphs" fill="#000" stroke="#000" stroke-width="0.35">−25.5</text>
<text transform="translate(112.6,59.8) rotate(-90)" font-size="9.2" text-anchor="middle" textLength="21" lengthAdjust="spacingAndGlyphs" fill="#000" stroke="#000" stroke-width="0.35">−26.0</text>
<text transform="translate(112.6,104.2) rotate(-90)" font-size="9.2" text-anchor="middle" textLength="21" lengthAdjust="spacingAndGlyphs" fill="#000" stroke="#000" stroke-width="0.35">−26.5</text>
<text transform="translate(112.6,148.7) rotate(-90)" font-size="9.2" text-anchor="middle" textLength="21" lengthAdjust="spacingAndGlyphs" fill="#000" stroke="#000" stroke-width="0.35">−27.0</text>
<text transform="translate(112.6,193.2) rotate(-90)" font-size="9.2" text-anchor="middle" textLength="21" lengthAdjust="spacingAndGlyphs" fill="#000" stroke="#000" stroke-width="0.35">−27.5</text>
<text transform="translate(112.6,237.6) rotate(-90)" font-size="9.2" text-anchor="middle" textLength="21" lengthAdjust="spacingAndGlyphs" fill="#000" stroke="#000" stroke-width="0.35">−28.0</text>
<text transform="translate(112.6,281.9) rotate(-90)" font-size="9.2" text-anchor="middle" textLength="21" lengthAdjust="spacingAndGlyphs" fill="#000" stroke="#000" stroke-width="0.35">−28.5</text>
<text transform="translate(99.2,145.8) rotate(-90)" font-size="9.5" text-anchor="middle" textLength="20.6" lengthAdjust="spacingAndGlyphs" fill="#000" stroke="#000" stroke-width="0.35">δ18O</text>
<g stroke="#222" stroke-width="1" fill="none"><line x1="132.8" y1="311.6" x2="608.0" y2="311.6"/><line x1="132.8" y1="311.6" x2="132.8" y2="316.6"/><line x1="162.5" y1="311.6" x2="162.5" y2="316.6"/><line x1="192.2" y1="311.6" x2="192.2" y2="316.6"/><line x1="221.9" y1="311.6" x2="221.9" y2="316.6"/><line x1="251.6" y1="311.6" x2="251.6" y2="316.6"/><line x1="281.3" y1="311.6" x2="281.3" y2="316.6"/><line x1="311.0" y1="311.6" x2="311.0" y2="316.6"/><line x1="340.7" y1="311.6" x2="340.7" y2="316.6"/><line x1="370.4" y1="311.6" x2="370.4" y2="316.6"/><line x1="400.1" y1="311.6" x2="400.1" y2="316.6"/><line x1="429.8" y1="311.6" x2="429.8" y2="316.6"/><line x1="459.5" y1="311.6" x2="459.5" y2="316.6"/><line x1="489.2" y1="311.6" x2="489.2" y2="316.6"/><line x1="518.9" y1="311.6" x2="518.9" y2="316.6"/><line x1="548.6" y1="311.6" x2="548.6" y2="316.6"/><line x1="578.3" y1="311.6" x2="578.3" y2="316.6"/><line x1="608.0" y1="311.6" x2="608.0" y2="316.6"/></g><text x="132.8" y="329.0" font-size="7.5" text-anchor="middle" fill="#000" stroke="#000" stroke-width="0.2">0</text><text x="162.5" y="329.0" font-size="7.5" text-anchor="middle" fill="#000" stroke="#000" stroke-width="0.2">500</text><text x="192.2" y="329.0" font-size="7.5" text-anchor="middle" fill="#000" stroke="#000" stroke-width="0.2">1000</text><text x="221.9" y="329.0" font-size="7.5" text-anchor="middle" fill="#000" stroke="#000" stroke-width="0.2">1500</text><text x="251.6" y="329.0" font-size="7.5" text-anchor="middle" fill="#000" stroke="#000" stroke-width="0.2">2000</text><text x="281.3" y="329.0" font-size="7.5" text-anchor="middle" fill="#000" stroke="#000" stroke-width="0.2">2500</text><text x="311.0" y="329.0" font-size="7.5" text-anchor="middle" fill="#000" stroke="#000" stroke-width="0.2">3000</text><text x="340.7" y="329.0" font-size="7.5" text-anchor="middle" fill="#000" stroke="#000" stroke-width="0.2">3500</text><text x="370.4" y="329.0" font-size="7.5" text-anchor="middle" fill="#000" stroke="#000" stroke-width="0.2">4000</text><text x="400.1" y="329.0" font-size="7.5" text-anchor="middle" fill="#000" stroke="#000" stroke-width="0.2">4500</text><text x="429.8" y="329.0" font-size="7.5" text-anchor="middle" fill="#000" stroke="#000" stroke-width="0.2">5000</text><text x="459.5" y="329.0" font-size="7.5" text-anchor="middle" fill="#000" stroke="#000" stroke-width="0.2">5550</text><text x="489.2" y="329.0" font-size="7.5" text-anchor="middle" fill="#000" stroke="#000" stroke-width="0.2">6000</text><text x="518.9" y="329.0" font-size="7.5" text-anchor="middle" fill="#000" stroke="#000" stroke-width="0.2">6500</text><text x="548.6" y="329.0" font-size="7.5" text-anchor="middle" fill="#000" stroke="#000" stroke-width="0.2">7000</text><text x="578.3" y="329.0" font-size="7.5" text-anchor="middle" fill="#000" stroke="#000" stroke-width="0.2">7500</text><text x="608.0" y="329.0" font-size="7.5" text-anchor="middle" fill="#000" stroke="#000" stroke-width="0.2">8000</text>
<text x="368.4" y="341.4" font-size="9" text-anchor="middle" textLength="49.3" lengthAdjust="spacingAndGlyphs" fill="#000" stroke="#000" stroke-width="0.35">cal. years BP</text>
<rect x="168.9" y="351.5" width="103.3" height="8.9" fill="#3f4fb0"/>
<rect x="272.2" y="351.5" width="11.0" height="8.9" fill="#7cc41e"/>
<rect x="285.5" y="351.5" width="27.6" height="8.9" fill="#f5e11f"/>
<rect x="313.1" y="351.5" width="40.9" height="8.9" fill="#de2b17"/>
<rect x="354.0" y="351.5" width="10.0" height="8.9" fill="#f5e11f"/>
<rect x="364.0" y="351.5" width="29.2" height="8.9" fill="#de2b17"/>
<rect x="132.0" y="365.1" width="69.6" height="9.3" fill="#3f4fb0"/>
<rect x="201.6" y="365.1" width="20.2" height="9.3" fill="#de2b17"/>
<rect x="221.8" y="365.1" width="40.2" height="9.3" fill="#3f4fb0"/>
<rect x="262.0" y="365.1" width="51.1" height="9.3" fill="#f5e11f"/>
<rect x="313.1" y="365.1" width="36.9" height="9.3" fill="#de2b17"/>
<rect x="133.2" y="378.2" width="164.0" height="6.7" fill="#d8d8d8"/>
<rect x="133.9" y="388.5" width="129.0" height="7.2" fill="#d8d8d8"/>
<rect x="133.8" y="416.7" width="193.9" height="9.3" fill="#de2b17"/>
<rect x="327.7" y="416.7" width="98.4" height="9.3" fill="#f5e11f"/>
<rect x="426.1" y="416.7" width="36.8" height="9.3" fill="#de2b17"/>
<rect x="133.8" y="442.4" width="164.9" height="9.3" fill="#de2b17"/>
<rect x="298.7" y="442.4" width="16.3" height="9.3" fill="#3f4fb0"/>
<rect x="315.0" y="442.4" width="147.3" height="9.3" fill="#de2b17"/>
<rect x="133.2" y="456.1" width="129.0" height="8.8" fill="#d8d8d8"/>
<rect x="358.6" y="487.9" width="37.0" height="8.1" fill="#8a8888"/>
<rect x="264.0" y="496.7" width="38.6" height="8.2" fill="#8a8888"/>
<rect x="168.5" y="510.7" width="41.9" height="7.1" fill="#8a8888"/>
<rect x="132.7" y="520.3" width="42.1" height="7.7" fill="#8a8888"/>
<text transform="translate(348.5,358.3) scale(0.8,1)" font-size="9.4" text-anchor="middle" fill="#000" stroke="#000" stroke-width="0.35">X</text>
<text transform="translate(221.4,374.0) scale(0.8,1)" font-size="9.4" text-anchor="middle" fill="#000" stroke="#000" stroke-width="0.35">X</text>
<text transform="translate(264.3,374.0) scale(0.8,1)" font-size="9.4" text-anchor="middle" fill="#000" stroke="#000" stroke-width="0.35">X</text>
<text transform="translate(323.1,374.0) scale(0.8,1)" font-size="9.4" text-anchor="middle" fill="#000" stroke="#000" stroke-width="0.35">X</text>
<text transform="translate(360.2,495.5) scale(0.66,1)" font-size="10.3" font-weight="bold" text-anchor="middle" fill="#000">?</text>
<g stroke="#222" stroke-width="1" fill="none"><line x1="132.8" y1="528.5" x2="608.0" y2="528.5"/><line x1="132.8" y1="528.5" x2="132.8" y2="533.5"/><line x1="162.5" y1="528.5" x2="162.5" y2="533.5"/><line x1="192.2" y1="528.5" x2="192.2" y2="533.5"/><line x1="221.9" y1="528.5" x2="221.9" y2="533.5"/><line x1="251.6" y1="528.5" x2="251.6" y2="533.5"/><line x1="281.3" y1="528.5" x2="281.3" y2="533.5"/><line x1="311.0" y1="528.5" x2="311.0" y2="533.5"/><line x1="340.7" y1="528.5" x2="340.7" y2="533.5"/><line x1="370.4" y1="528.5" x2="370.4" y2="533.5"/><line x1="400.1" y1="528.5" x2="400.1" y2="533.5"/><line x1="429.8" y1="528.5" x2="429.8" y2="533.5"/><line x1="459.5" y1="528.5" x2="459.5" y2="533.5"/><line x1="489.2" y1="528.5" x2="489.2" y2="533.5"/><line x1="518.9" y1="528.5" x2="518.9" y2="533.5"/><line x1="548.6" y1="528.5" x2="548.6" y2="533.5"/><line x1="578.3" y1="528.5" x2="578.3" y2="533.5"/><line x1="608.0" y1="528.5" x2="608.0" y2="533.5"/></g><text x="132.8" y="545.3" font-size="7.5" text-anchor="middle" fill="#000" stroke="#000" stroke-width="0.2">0</text><text x="162.5" y="545.3" font-size="7.5" text-anchor="middle" fill="#000" stroke="#000" stroke-width="0.2">500</text><text x="192.2" y="545.3" font-size="7.5" text-anchor="middle" fill="#000" stroke="#000" stroke-width="0.2">1000</text><text x="221.9" y="545.3" font-size="7.5" text-anchor="middle" fill="#000" stroke="#000" stroke-width="0.2">1500</text><text x="251.6" y="545.3" font-size="7.5" text-anchor="middle" fill="#000" stroke="#000" stroke-width="0.2">2000</text><text x="281.3" y="545.3" font-size="7.5" text-anchor="middle" fill="#000" stroke="#000" stroke-width="0.2">2500</text><text x="311.0" y="545.3" font-size="7.5" text-anchor="middle" fill="#000" stroke="#000" stroke-width="0.2">3000</text><text x="340.7" y="545.3" font-size="7.5" text-anchor="middle" fill="#000" stroke="#000" stroke-width="0.2">3500</text><text x="370.4" y="545.3" font-size="7.5" text-anchor="middle" fill="#000" stroke="#000" stroke-width="0.2">4000</text><text x="400.1" y="545.3" font-size="7.5" text-anchor="middle" fill="#000" stroke="#000" stroke-width="0.2">4500</text><text x="429.8" y="545.3" font-size="7.5" text-anchor="middle" fill="#000" stroke="#000" stroke-width="0.2">5000</text><text x="459.5" y="545.3" font-size="7.5" text-anchor="middle" fill="#000" stroke="#000" stroke-width="0.2">5550</text><text x="489.2" y="545.3" font-size="7.5" text-anchor="middle" fill="#000" stroke="#000" stroke-width="0.2">6000</text><text x="518.9" y="545.3" font-size="7.5" text-anchor="middle" fill="#000" stroke="#000" stroke-width="0.2">6500</text><text x="548.6" y="545.3" font-size="7.5" text-anchor="middle" fill="#000" stroke="#000" stroke-width="0.2">7000</text><text x="578.3" y="545.3" font-size="7.5" text-anchor="middle" fill="#000" stroke="#000" stroke-width="0.2">7500</text><text x="608.0" y="545.3" font-size="7.5" text-anchor="middle" fill="#000" stroke="#000" stroke-width="0.2">8000</text>
<text x="0" y="348.1" font-size="10.2" font-weight="bold" fill="#000" stroke="#000" stroke-width="0.25">Little Auk</text>
<text x="0" y="359.1" font-size="9.4" fill="#000" stroke="#000" stroke-width="0.2">Annikitsoq (GL3)</text>
<text x="0" y="371.5" font-size="9.4" fill="#000" stroke="#000" stroke-width="0.2">Qeqertaq  (Salve Ø)</text>
<text x="0" y="383.9" font-size="9.4" fill="#000" stroke="#000" stroke-width="0.2">Qoororsuaq (SD)</text>
<text x="0" y="395.1" font-size="9.4" fill="#000" stroke="#000" stroke-width="0.2">Kuukkat (RF)</text>
<text x="0" y="413.1" font-size="10.2" font-weight="bold" fill="#000" stroke="#000" stroke-width="0.25">Thick-billed murre</text>
<text x="0" y="424.1" font-size="9.4" fill="#000" stroke="#000" stroke-width="0.2">Appat (Saunders Ø)</text>
<text x="0" y="443.0" font-size="10.2" font-weight="bold" fill="#000" stroke="#000" stroke-width="0.25">Common eider</text>
<text x="0" y="453.2" font-size="9.4" fill="#000" stroke="#000" stroke-width="0.2">Iterlassuup Qeqertaarsui (TSB)</text>
<text x="0" y="464.1" font-size="9.4" fill="#000" stroke="#000" stroke-width="0.2">Booth sund</text>
<text x="0" y="482.7" font-size="10.2" font-weight="bold" fill="#000" stroke="#000" stroke-width="0.25">Human settlement</text>
<text x="0" y="493.2" font-size="9.4" fill="#000" stroke="#000" stroke-width="0.2">Saqqaq/Independence <tspan fill="#555" stroke="#555">I</tspan></text>
<text x="0" y="504.8" font-size="9.4" fill="#000" stroke="#000" stroke-width="0.2">Greenlandic Dorset</text>
<text x="0" y="515.8" font-size="9.4" fill="#000" stroke="#000" stroke-width="0.2">Late Dorset</text>
<text x="0" y="527.1" font-size="9.4" fill="#000" stroke="#000" stroke-width="0.2">Thule culture</text>
<text x="479.6" y="382.3" font-size="10.35" fill="#000" stroke="#000" stroke-width="0.15">possible birds absent</text>
<rect x="607.4" y="373.2" width="73.6" height="9.1" fill="#7cc41e"/>
<text x="479.6" y="395.5" font-size="10.35" fill="#000" stroke="#000" stroke-width="0.15">relative low numbers</text>
<rect x="609.0" y="387.7" width="73.7" height="8.9" fill="#3f4fb0"/>
<text x="479.6" y="408.2" font-size="10.35" fill="#000" stroke="#000" stroke-width="0.15">variable numbers</text>
<rect x="609.0" y="400.8" width="75.0" height="9.0" fill="#f5e11f"/>
<text x="479.6" y="421.4" font-size="10.35" fill="#000" stroke="#000" stroke-width="0.15">relative high numbers</text>
<rect x="609.0" y="415.6" width="75.0" height="9.1" fill="#de2b17"/>
<text x="479.6" y="434.2" font-size="10.35" fill="#000" stroke="#000" stroke-width="0.15">local peak in abundance</text>
<text x="479.6" y="447.4" font-size="10.35" fill="#000" stroke="#000" stroke-width="0.15">numbers uncertain</text>
<rect x="609.5" y="440.8" width="74.0" height="8.6" fill="#d8d8d8"/>
<text transform="translate(613.35,438.1) scale(0.7,1)" font-size="12.2" text-anchor="middle" fill="#000" stroke="#000" stroke-width="0.35">X</text>
</svg></body></html>
